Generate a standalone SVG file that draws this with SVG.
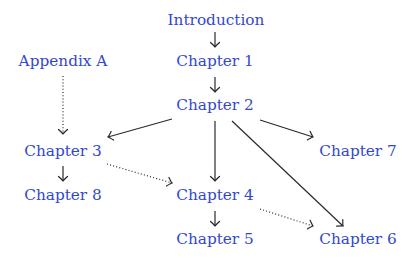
<svg xmlns="http://www.w3.org/2000/svg" width="415" height="268" viewBox="0 0 415 268">
<style>
text{font-family:"DejaVu Serif","Liberation Serif",serif;font-size:15.3px;fill:#3348d0;text-anchor:middle}
.e{stroke:#2a2a2a;stroke-width:1.2;fill:none;marker-end:url(#to)}
.d{stroke-dasharray:1 2.2}
</style>
<defs>
<marker id="to" markerUnits="userSpaceOnUse" markerWidth="12" markerHeight="12" refX="0" refY="0" viewBox="-6 -6 12 12" orient="auto" overflow="visible">
<path d="M-4.5,-4.5 Q-1.2,-0.8 0,0 Q-1.2,0.8 -4.5,4.5" stroke="#2a2a2a" stroke-width="1.2" fill="none" stroke-linecap="round"/>
</marker>
</defs>
<rect width="415" height="268" fill="#fff"/>
<g id="connectors">
<line class="e" x1="215" y1="32" x2="215" y2="47"/>
<line class="e" x1="215" y1="77" x2="215" y2="92"/>
<line class="e d" x1="63" y1="76" x2="63" y2="134"/>
<line class="e" x1="172" y1="119" x2="108" y2="137"/>
<line class="e" x1="215" y1="121" x2="215" y2="181"/>
<line class="e" x1="232" y1="121" x2="343" y2="226"/>
<line class="e" x1="260" y1="120" x2="313" y2="137"/>
<line class="e" x1="63" y1="166" x2="63" y2="181"/>
<line class="e d" x1="107" y1="164" x2="172" y2="183"/>
<line class="e" x1="215" y1="211" x2="215" y2="226"/>
<line class="e d" x1="260" y1="209" x2="313" y2="226"/>
</g>
<g id="intro"><text x="216" y="25">Introduction</text></g>
<g id="ch1"><text x="215" y="66">Chapter 1</text></g>
<g id="appA"><text x="63" y="66">Appendix A</text></g>
<g id="ch2"><text x="215" y="110">Chapter 2</text></g>
<g id="ch3"><text x="63" y="156">Chapter 3</text></g>
<g id="ch7"><text x="358" y="156">Chapter 7</text></g>
<g id="ch8"><text x="63" y="200">Chapter 8</text></g>
<g id="ch4"><text x="215" y="200">Chapter 4</text></g>
<g id="ch5"><text x="215" y="244">Chapter 5</text></g>
<g id="ch6"><text x="358" y="244">Chapter 6</text></g>
</svg>
